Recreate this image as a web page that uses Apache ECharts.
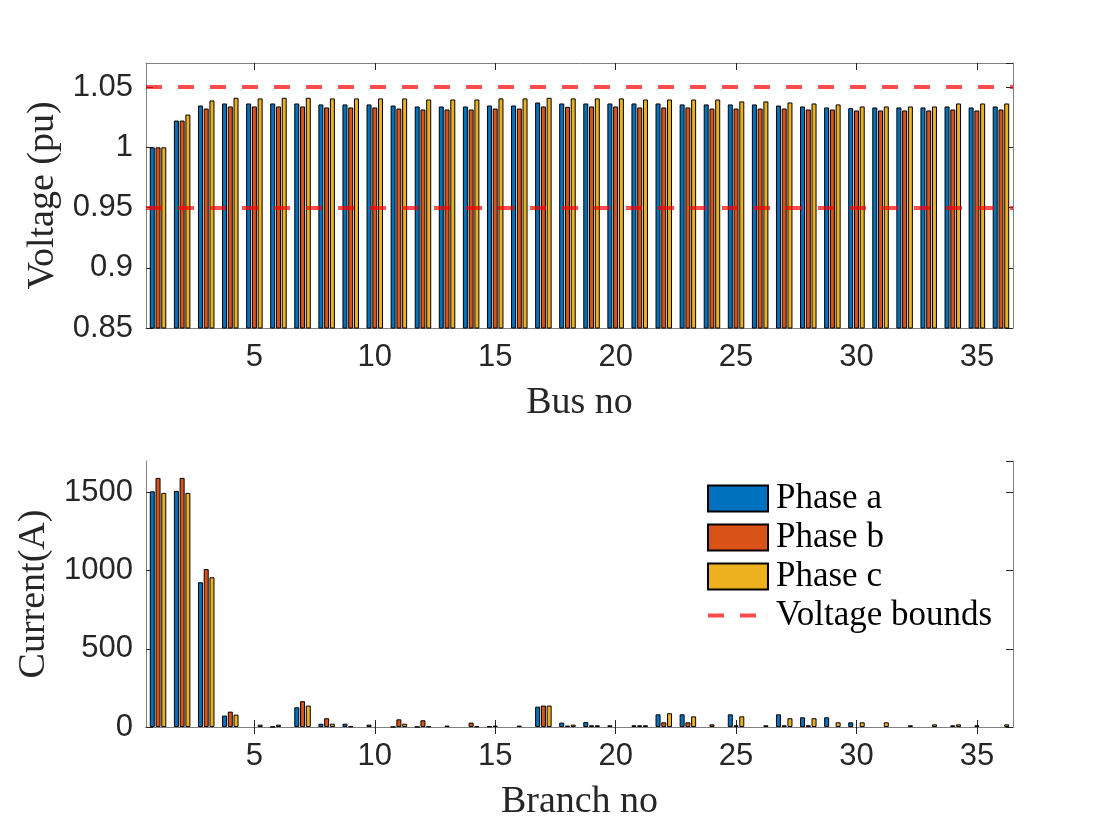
<!DOCTYPE html>
<html>
<head>
<meta charset="utf-8">
<script src="https://cdn.jsdelivr.net/npm/echarts@6/dist/echarts.min.js"></script>
<style>
html, body { margin: 0; padding: 0; background: #fff; }
#main { width: 1120px; height: 840px; }
</style>
</head>
<body>
<div id="main"></div>
<script>
// bus / branch numbers
var busNo = ['1','2','3','4','5','6','7','8','9','10','11','12','13','14','15','16','17','18',
             '19','20','21','22','23','24','25','26','27','28','29','30','31','32','33','34','35','36'];
var branchNo = ['1','2','3','4','5','6','7','8','9','10','11','12','13','14','15','16','17','18',
                '19','20','21','22','23','24','25','26','27','28','29','30','31','32','33','34','35','36'];

// bus voltages (pu)
var voltA = [1.000,1.0222,1.0347,1.0364,1.0364,1.0364,1.0364,1.0356,1.0356,1.0356,1.0347,1.0339,
             1.0339,1.0339,1.0347,1.0347,1.0372,1.0364,1.0364,1.0364,1.0364,1.0364,1.0356,1.0356,
             1.0356,1.0356,1.0347,1.0339,1.0331,1.0325,1.0331,1.0331,1.0331,1.0339,1.0331,1.0339];
var voltB = [1.000,1.0222,1.0322,1.0339,1.0339,1.0339,1.0339,1.0331,1.0331,1.0331,1.0322,1.0314,
             1.0314,1.0314,1.0322,1.0322,1.0339,1.0336,1.0339,1.0339,1.0331,1.0331,1.0331,1.0322,
             1.0322,1.0322,1.0322,1.0314,1.0314,1.0306,1.0306,1.0306,1.0306,1.0314,1.0306,1.0314];
var voltC = [1.000,1.0272,1.0389,1.0411,1.0406,1.0411,1.0411,1.0406,1.0406,1.0406,1.0406,1.0397,
             1.0397,1.0397,1.0406,1.0406,1.0411,1.0406,1.0406,1.0406,1.0397,1.0397,1.0397,1.0397,
             1.0381,1.0381,1.0372,1.0364,1.0356,1.0339,1.0339,1.0339,1.0339,1.0364,1.0364,1.0364];
var voltBounds = [1.05, 0.95];

// branch currents (A)
var currA = [1506,1509,925,73,0,1,126,21,21,15,1,1,0,0,4,0,130,28,
             32,11,11,81,81,0,81,0,81,62,62,30,0,0,0,0,0,0];
var currB = [1592,1592,1009,98,0,15,165,56,4,0,49,43,9,28,9,9,137,9,
             11,0,11,30,30,17,11,0,11,11,0,0,0,0,0,11,11,0];
var currC = [1496,1496,957,79,15,0,137,21,0,0,21,4,0,4,0,0,137,15,
             11,0,11,88,68,0,68,11,56,56,30,30,30,11,17,17,0,17];

// axis ticks
var voltTicks = { min: 0.85, max: 1.07, step: 0.05 };
var currTicks = { min: 0, max: 1700, step: 500 };

var colors = ['#0072BD', '#D95319', '#EDB120'];
var boundColor = 'rgba(255,0,0,0.7)';
var sansFont = 'Helvetica, Arial, "Liberation Sans", sans-serif';
var serifFont = '"Liberation Serif", "DejaVu Serif", serif';

var chart = echarts.init(document.getElementById('main'));

function every5(idx) { return (idx + 1) % 5 === 0; }

function catAxis(grid, cats, pos, name) {
    var ax = {
        type: 'category',
        gridIndex: grid,
        position: pos,
        data: cats,
        axisLine: { show: true, lineStyle: { color: '#808080', width: 1 } },
        axisTick: { show: true, inside: true, length: 7, alignWithLabel: true, interval: every5,
                    lineStyle: { color: '#262626', width: 1 } },
        axisLabel: { show: pos === 'bottom', interval: every5, margin: 14,
                     fontFamily: sansFont, fontSize: 31, color: '#262626' },
        splitLine: { show: false }
    };
    if (name) {
        ax.name = name;
        ax.nameLocation = 'middle';
        ax.nameGap = 56;
        ax.nameTextStyle = { fontFamily: serifFont, fontSize: 38, color: '#262626' };
    }
    return ax;
}

function valAxis(grid, t, pos, name) {
    var ax = {
        type: 'value',
        gridIndex: grid,
        position: pos,
        min: t.min, max: t.max, interval: t.step,
        axisLine: { show: true, lineStyle: { color: '#808080', width: 1 } },
        axisTick: { show: true, inside: true, length: 7, lineStyle: { color: '#262626', width: 1 } },
        axisLabel: { show: pos === 'left', showMaxLabel: false, margin: 13,
                     fontFamily: sansFont, fontSize: 31, color: '#262626',
                     formatter: function (v) { return String(v); } },
        splitLine: { show: false }
    };
    if (name) {
        ax.name = name;
        ax.nameLocation = 'middle';
        ax.nameRotate = 90;
        ax.nameGap = 84;
        ax.nameTextStyle = { fontFamily: serifFont, fontSize: 38, color: '#262626' };
    }
    return ax;
}

function barSeries(name, data, x, y, color) {
    return {
        name: name,
        type: 'bar',
        xAxisIndex: x,
        yAxisIndex: y,
        // zero-height bars are not drawn
        data: data.map(function (v) { return v === 0 ? '-' : v; }),
        barWidth: 5,
        barGap: '15%',
        itemStyle: { color: color, borderColor: '#000', borderWidth: 1 },
        emphasis: { disabled: true }
    };
}

var option = {
    backgroundColor: '#fff',
    animation: false,
    grid: [
        { left: 146, top: 63, width: 867, height: 265 },
        { left: 146, top: 461, width: 867, height: 266 }
    ],
    legend: {
        orient: 'vertical',
        left: 702,
        top: 476,
        itemWidth: 60,
        itemHeight: 26,
        itemGap: 4,
        selectedMode: false,
        data: [
            { name: 'Phase a', icon: 'rect' },
            { name: 'Phase b', icon: 'rect' },
            { name: 'Phase c', icon: 'rect' },
            { name: 'Voltage bounds', icon: 'path://M0,0H16V4H0Z M32,0H48V4H32Z M59.9,0H60V4H59.9Z',
              itemStyle: { color: boundColor, borderWidth: 0 } }
        ],
        textStyle: { fontFamily: serifFont, fontSize: 35, color: '#000', padding: [0, 0, 0, 3] }
    },
    xAxis: [
        catAxis(0, busNo, 'bottom', 'Bus no'),
        catAxis(0, busNo, 'top'),
        catAxis(1, branchNo, 'bottom', 'Branch no'),
        catAxis(1, branchNo, 'top')
    ],
    yAxis: [
        valAxis(0, voltTicks, 'left', 'Voltage (pu)'),
        valAxis(0, voltTicks, 'right'),
        valAxis(1, currTicks, 'left', 'Current(A)'),
        valAxis(1, currTicks, 'right')
    ],
    series: [
        barSeries('Phase a', voltA, 0, 0, colors[0]),
        barSeries('Phase b', voltB, 0, 0, colors[1]),
        barSeries('Phase c', voltC, 0, 0, colors[2]),
        {
            name: 'Voltage bounds',
            type: 'line',
            xAxisIndex: 0,
            yAxisIndex: 0,
            data: [],
            symbol: 'none',
            lineStyle: { color: boundColor, width: 4, type: [16, 16] },
            itemStyle: { color: boundColor },
            z: 5,
            markLine: {
                silent: true,
                symbol: 'none',
                label: { show: false },
                lineStyle: { color: boundColor, width: 4, type: [16, 16] },
                data: voltBounds.map(function (v) { return { yAxis: v }; })
            }
        },
        barSeries('Phase a', currA, 2, 2, colors[0]),
        barSeries('Phase b', currB, 2, 2, colors[1]),
        barSeries('Phase c', currC, 2, 2, colors[2])
    ]
};

chart.setOption(option);
</script>
</body>
</html>
